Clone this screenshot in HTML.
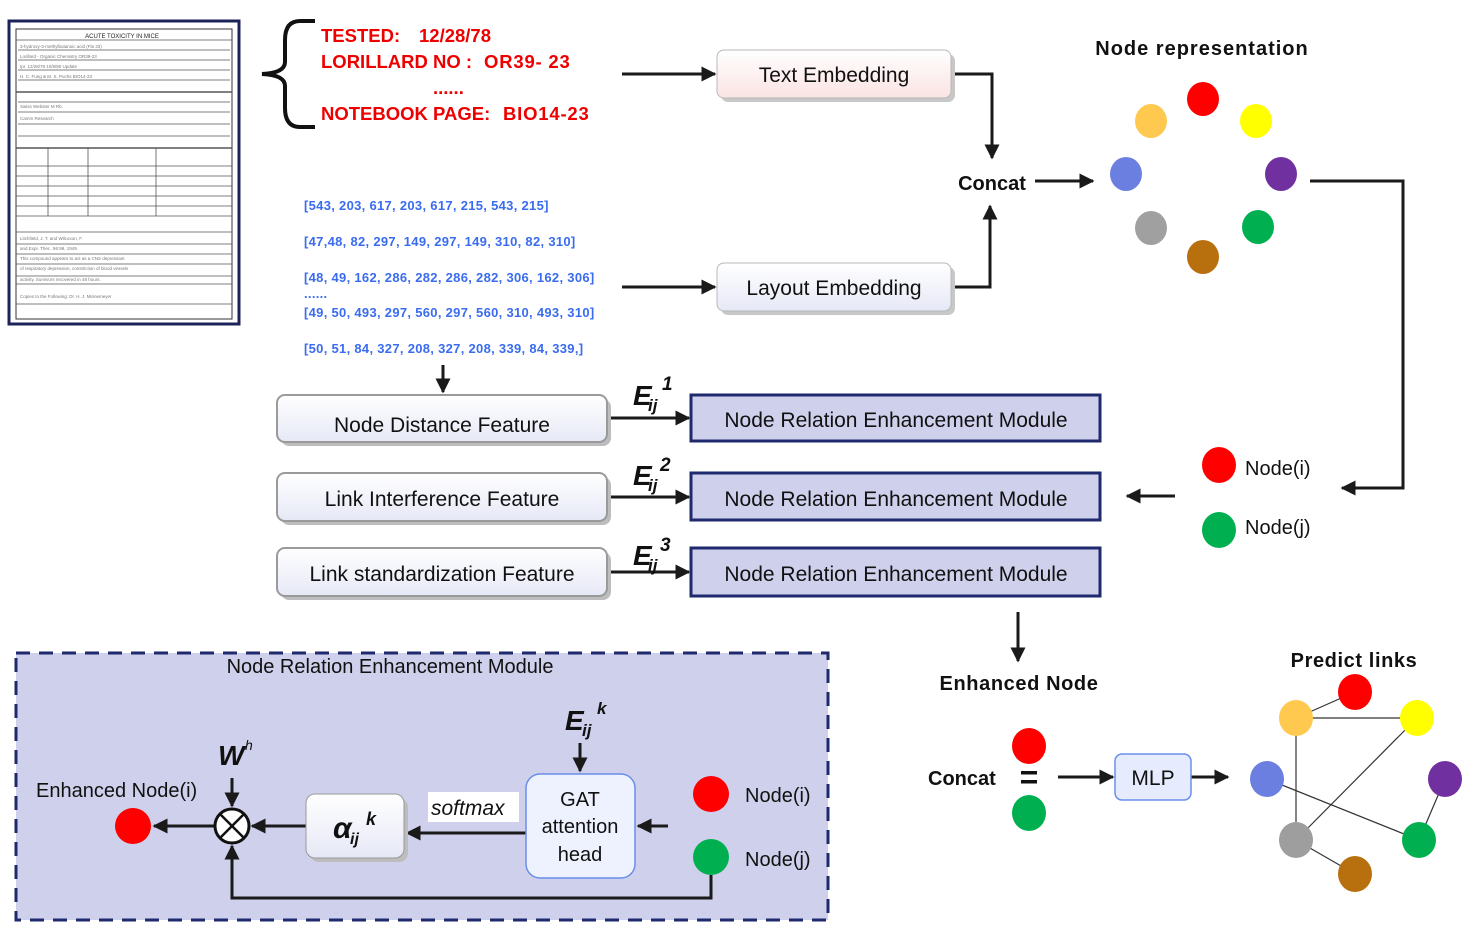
<!DOCTYPE html>
<html><head><meta charset="utf-8"><style>
body{margin:0;background:#fff}
svg{display:block}
text{font-family:"Liberation Sans","DejaVu Sans",sans-serif}
</style></head><body>
<svg width="1474" height="930" viewBox="0 0 1474 930" xmlns="http://www.w3.org/2000/svg">
<defs>
<marker id="a" viewBox="0 0 10 10" refX="9" refY="5" markerWidth="5" markerHeight="5" orient="auto-start-reverse"><path d="M0,0 L10,5 L0,10 z" fill="#1a1a1a"/></marker>
<linearGradient id="pk" x1="0" y1="0" x2="0" y2="1"><stop offset="0" stop-color="#fff"/><stop offset="1" stop-color="#fbe3e3"/></linearGradient>
<linearGradient id="bl" x1="0" y1="0" x2="0" y2="1"><stop offset="0" stop-color="#fff"/><stop offset="1" stop-color="#e6e8f6"/></linearGradient>
</defs>
<rect x="9" y="21" width="230" height="303" fill="#fff" stroke="#1c2358" stroke-width="3"/>
<rect x="16" y="29" width="216" height="290" fill="none" stroke="#333" stroke-width="1"/>
<g stroke="#555" stroke-width="0.8">
<line x1="16" y1="40" x2="232" y2="40"/><line x1="18" y1="50" x2="230" y2="50"/><line x1="18" y1="60" x2="230" y2="60"/><line x1="18" y1="70" x2="230" y2="70"/><line x1="18" y1="80" x2="230" y2="80"/><line x1="16" y1="92" x2="232" y2="92" stroke-width="1.4"/><line x1="18" y1="102" x2="230" y2="102"/><line x1="18" y1="112" x2="230" y2="112"/><line x1="18" y1="124" x2="230" y2="124"/><line x1="18" y1="136" x2="230" y2="136"/><line x1="16" y1="148" x2="232" y2="148" stroke-width="1.4"/>
<line x1="16" y1="166" x2="232" y2="166"/><line x1="16" y1="176" x2="232" y2="176"/><line x1="16" y1="186" x2="232" y2="186"/><line x1="16" y1="196" x2="232" y2="196"/><line x1="16" y1="206" x2="232" y2="206"/><line x1="16" y1="216" x2="232" y2="216"/>
<line x1="48" y1="148" x2="48" y2="216"/><line x1="88" y1="148" x2="88" y2="216"/><line x1="156" y1="148" x2="156" y2="216"/>
<line x1="16" y1="232" x2="232" y2="232"/><line x1="16" y1="244" x2="232" y2="244"/><line x1="16" y1="254" x2="232" y2="254"/><line x1="16" y1="264" x2="232" y2="264"/><line x1="16" y1="276" x2="232" y2="276"/><line x1="16" y1="284" x2="232" y2="284"/><line x1="16" y1="304" x2="232" y2="304"/>
</g>
<text x="122" y="38" font-size="6" text-anchor="middle" fill="#222">ACUTE TOXICITY IN MICE</text>
<g fill="#777" font-size="4.5"><text x="20" y="48">3-hydroxy-3-methylbutanoic acid (Fla 33)</text><text x="20" y="58">Lorillard - Organic Chemistry   OR39-23</text><text x="20" y="68">Ipr.        12/28/78      10/8/80 Update</text><text x="20" y="78">H. C. Fung &amp; M. S. Puchs   BIO14-23</text><text x="20" y="108">Swiss Webster   M   Rb.</text><text x="20" y="120">Camm Research</text><text x="20" y="240">Litchfield, J. T. and Wilcoxon, F.</text><text x="20" y="250">and Expr. Ther., 96:99, 1949.</text><text x="20" y="260">This compound appears to act as a CNS depressant</text><text x="20" y="270">of respiratory depression, constriction of blood vessels</text><text x="20" y="281">activity. Survivors recovered in 48 hours.</text><text x="20" y="298">Copies to the Following:  Dr. H. J. Minnemeyer</text></g>
<path d="M315,21 L300,21 Q285,21 285,40 L285,62 Q285,73 262,74 Q285,75 285,86 L285,108 Q285,127 300,127 L315,127" fill="none" stroke="#111" stroke-width="4"/>
<g fill="#ee0000" font-weight="bold" font-size="18.5">
<text x="321" y="42">TESTED:</text><text x="419" y="42">12/28/78</text>
<text x="321" y="68">LORILLARD NO :</text><text x="484" y="68" letter-spacing="0.8">OR39- 23</text>
<text x="433" y="94">......</text>
<text x="321" y="120">NOTEBOOK PAGE:</text><text x="503" y="120" letter-spacing="0.8">BIO14-23</text>
</g>
<g fill="#3a6cf0" font-size="13" font-weight="bold" letter-spacing="0.3">
<text x="304" y="210">[543, 203, 617, 203, 617, 215, 543, 215]</text>
<text x="304" y="246">[47,48, 82, 297, 149, 297, 149, 310, 82, 310]</text>
<text x="304" y="282">[48, 49, 162, 286, 282, 286, 282, 306, 162, 306]</text>
<text x="304" y="298">......</text>
<text x="304" y="317">[49, 50, 493, 297, 560, 297, 560, 310, 493, 310]</text>
<text x="304" y="353">[50, 51, 84, 327, 208, 327, 208, 339, 84, 339,]</text>
</g>
<g stroke="#1a1a1a" stroke-width="3" fill="none" marker-end="url(#a)">
<line x1="622" y1="74" x2="715" y2="74"/>
<polyline points="951,74 992,74 992,158"/>
<line x1="622" y1="287" x2="715" y2="287"/>
<polyline points="951,287 990,287 990,206"/>
<line x1="1035" y1="181" x2="1093" y2="181"/>
<line x1="443" y1="365" x2="443" y2="392"/>
<line x1="607" y1="418" x2="689" y2="418"/>
<line x1="607" y1="497" x2="689" y2="497"/>
<line x1="607" y1="572" x2="689" y2="572"/>
<polyline points="1310,181 1403,181 1403,488 1342,488"/>
<line x1="1175" y1="496" x2="1127" y2="496"/>
<line x1="1018" y1="612" x2="1018" y2="661"/>
<line x1="1058" y1="777" x2="1113" y2="777"/>
<line x1="1191" y1="777" x2="1228" y2="777"/>
</g>
<rect x="721" y="54" width="234" height="48" rx="7" fill="#c8c8c8"/>
<rect x="717" y="50" width="234" height="48" rx="7" fill="url(#pk)" stroke="#b8b8b8"/>
<text x="834" y="82" font-size="21" text-anchor="middle" fill="#111">Text Embedding</text>
<rect x="721" y="267" width="234" height="48" rx="7" fill="#c8c8c8"/>
<rect x="717" y="263" width="234" height="48" rx="7" fill="url(#bl)" stroke="#b8b8b8"/>
<text x="834" y="295" font-size="21" text-anchor="middle" fill="#111">Layout Embedding</text>
<text x="992" y="190" font-size="20" font-weight="bold" text-anchor="middle" fill="#111">Concat</text>
<text x="1202" y="55" font-size="20" font-weight="bold" text-anchor="middle" fill="#111" letter-spacing="1">Node representation</text>
<g>
<ellipse cx="1151" cy="121" rx="16" ry="17" fill="#ffc94f"/><ellipse cx="1203" cy="99" rx="16" ry="17" fill="#ff0000"/><ellipse cx="1256" cy="121" rx="16" ry="17" fill="#ffff00"/><ellipse cx="1126" cy="174" rx="16" ry="17" fill="#6b7fe0"/><ellipse cx="1281" cy="174" rx="16" ry="17" fill="#7030a0"/><ellipse cx="1151" cy="228" rx="16" ry="17" fill="#a0a0a0"/><ellipse cx="1258" cy="227" rx="16" ry="17" fill="#00b050"/><ellipse cx="1203" cy="257" rx="16" ry="17" fill="#b8700e"/>
</g>
<g>
<rect x="281" y="399" width="330" height="47" rx="8" fill="#bdbdbd"/><rect x="277" y="395" width="330" height="47" rx="8" fill="url(#bl)" stroke="#9a9a9a" stroke-width="2"/>
<text x="442" y="432" font-size="21" text-anchor="middle" fill="#111">Node Distance Feature</text>
<rect x="281" y="477" width="330" height="48" rx="8" fill="#bdbdbd"/><rect x="277" y="473" width="330" height="48" rx="8" fill="url(#bl)" stroke="#9a9a9a" stroke-width="2"/>
<text x="442" y="506" font-size="21" text-anchor="middle" fill="#111">Link Interference Feature</text>
<rect x="281" y="552" width="330" height="48" rx="8" fill="#bdbdbd"/><rect x="277" y="548" width="330" height="48" rx="8" fill="url(#bl)" stroke="#9a9a9a" stroke-width="2"/>
<text x="442" y="581" font-size="21" text-anchor="middle" fill="#111">Link standardization Feature</text>
</g>
<g font-weight="bold" font-style="italic" fill="#111">
<text x="633" y="405" font-size="28">E</text><text x="648" y="411" font-size="17">ij</text><text x="662" y="390" font-size="19">1</text>
<text x="633" y="485" font-size="28">E</text><text x="648" y="491" font-size="17">ij</text><text x="660" y="471" font-size="19">2</text>
<text x="633" y="565" font-size="28">E</text><text x="648" y="571" font-size="17">ij</text><text x="660" y="551" font-size="19">3</text>
</g>
<g fill="#cfd0ec" stroke="#1f2a6e" stroke-width="3">
<rect x="691" y="395" width="409" height="46"/><rect x="691" y="473" width="409" height="47"/><rect x="691" y="548" width="409" height="48"/>
</g>
<g font-size="21" fill="#111" text-anchor="middle">
<text x="896" y="427">Node Relation Enhancement Module</text><text x="896" y="506">Node Relation Enhancement Module</text><text x="896" y="581">Node Relation Enhancement Module</text>
</g>
<ellipse cx="1219" cy="465" rx="17" ry="18" fill="#ff0000"/><ellipse cx="1219" cy="530" rx="17" ry="18" fill="#00b050"/>
<text x="1245" y="475" font-size="20" fill="#111">Node(i)</text><text x="1245" y="534" font-size="20" fill="#111">Node(j)</text>
<text x="1019" y="690" font-size="20" font-weight="bold" text-anchor="middle" fill="#111" letter-spacing="0.6">Enhanced Node</text>
<text x="928" y="785" font-size="20" font-weight="bold" fill="#111">Concat</text>
<rect x="1021" y="771" width="16" height="3.5" fill="#111"/><rect x="1021" y="780" width="16" height="3.5" fill="#111"/>
<ellipse cx="1029" cy="746" rx="17" ry="18" fill="#ff0000"/><ellipse cx="1029" cy="813" rx="17" ry="18" fill="#00b050"/>
<rect x="1115" y="754" width="76" height="46" rx="7" fill="#e6ebfd" stroke="#6a90ea" stroke-width="1.5"/>
<text x="1153" y="785" font-size="21" text-anchor="middle" fill="#111">MLP</text>
<text x="1354" y="667" font-size="20" font-weight="bold" text-anchor="middle" fill="#111" letter-spacing="0.6">Predict links</text>
<g stroke="#333" stroke-width="1.2">
<line x1="1296" y1="718" x2="1355" y2="692"/><line x1="1296" y1="718" x2="1417" y2="718"/><line x1="1296" y1="718" x2="1296" y2="840"/><line x1="1267" y1="779" x2="1419" y2="840"/><line x1="1296" y1="840" x2="1417" y2="718"/><line x1="1296" y1="840" x2="1355" y2="874"/><line x1="1419" y1="840" x2="1445" y2="779"/>
</g>
<ellipse cx="1355" cy="692" rx="17" ry="18" fill="#ff0000"/><ellipse cx="1296" cy="718" rx="17" ry="18" fill="#ffc94f"/><ellipse cx="1417" cy="718" rx="17" ry="18" fill="#ffff00"/><ellipse cx="1267" cy="779" rx="17" ry="18" fill="#6b7fe0"/><ellipse cx="1445" cy="779" rx="17" ry="18" fill="#7030a0"/><ellipse cx="1296" cy="840" rx="17" ry="18" fill="#9e9e9e"/><ellipse cx="1419" cy="840" rx="17" ry="18" fill="#00b050"/><ellipse cx="1355" cy="874" rx="17" ry="18" fill="#b8700e"/>
<rect x="16" y="653" width="812" height="267" fill="#cfd0ec" stroke="#1f2a6e" stroke-width="3" stroke-dasharray="14,9"/>
<text x="390" y="673" font-size="20" text-anchor="middle" fill="#111">Node Relation Enhancement Module</text>
<text x="36" y="797" font-size="20" fill="#111">Enhanced Node(i)</text>
<g stroke="#1a1a1a" stroke-width="3" fill="none" marker-end="url(#a)">
<line x1="214" y1="826" x2="154" y2="826"/>
<line x1="232" y1="778" x2="232" y2="806"/>
<line x1="306" y1="826" x2="252" y2="826"/>
<line x1="526" y1="833" x2="407" y2="833"/>
<line x1="580" y1="743" x2="580" y2="771"/>
<line x1="668" y1="826" x2="638" y2="826"/>
<polyline points="711,875 711,898 232,898 232,846"/>
</g>
<ellipse cx="133" cy="826" rx="18" ry="18" fill="#ff0000"/>
<circle cx="232" cy="826" r="17" fill="#fff" stroke="#111" stroke-width="3"/>
<line x1="220" y1="814" x2="244" y2="838" stroke="#111" stroke-width="2.5"/><line x1="244" y1="814" x2="220" y2="838" stroke="#111" stroke-width="2.5"/>
<text x="218" y="765" font-size="28" font-weight="bold" font-style="italic" fill="#111">W</text><text x="245" y="750" font-size="14" font-style="italic" fill="#111">h</text>
<rect x="310" y="798" width="98" height="64" rx="9" fill="#bdbdbd"/>
<rect x="306" y="794" width="98" height="64" rx="9" fill="url(#bl)" stroke="#999"/>
<text x="333" y="838" font-size="30" font-weight="bold" font-style="italic" fill="#111">α</text><text x="350" y="844" font-size="16" font-weight="bold" font-style="italic" fill="#111">ij</text><text x="366" y="825" font-size="18" font-weight="bold" font-style="italic" fill="#111">k</text>
<rect x="428" y="792" width="91" height="30" fill="#fff"/>
<text x="431" y="815" font-size="21" font-style="italic" fill="#111">softmax</text>
<rect x="526" y="774" width="109" height="104" rx="14" fill="#eef2ff" stroke="#6a8de8" stroke-width="1.5"/>
<g font-size="20" fill="#111" text-anchor="middle"><text x="580" y="806">GAT</text><text x="580" y="833">attention</text><text x="580" y="861">head</text></g>
<text x="565" y="730" font-size="28" font-weight="bold" font-style="italic" fill="#111">E</text><text x="582" y="736" font-size="17" font-weight="bold" font-style="italic" fill="#111">ij</text><text x="597" y="714" font-size="17" font-weight="bold" font-style="italic" fill="#111">k</text>
<ellipse cx="711" cy="794" rx="18" ry="18" fill="#ff0000"/><ellipse cx="711" cy="857" rx="18" ry="18" fill="#00b050"/>
<text x="745" y="802" font-size="20" fill="#111">Node(i)</text><text x="745" y="866" font-size="20" fill="#111">Node(j)</text>
</svg>
</body></html>
